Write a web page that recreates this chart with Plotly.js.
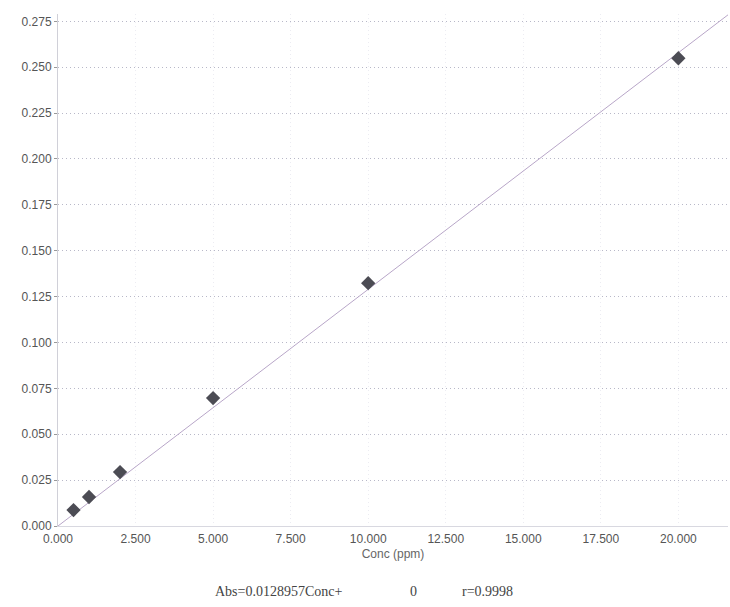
<!DOCTYPE html>
<html><head><meta charset="utf-8">
<script src="https://cdn.plot.ly/plotly-3.0.1.min.js"></script>
<style>body{margin:0;background:#fff}#c{width:730px;height:607px}</style>
</head><body><div id="c"></div>
<script>
const conc = [0.5, 1.0, 2.0, 5.0, 10.0, 20.0];
const abs = [0.0087, 0.0158, 0.0294, 0.0697, 0.1323, 0.2549];
const slope = 0.0128957;
const intercept = 0;
const fitX = [0, 21.6];
const fitY = fitX.map(x => slope * x + intercept);
const xTicks = [0, 2.5, 5, 7.5, 10, 12.5, 15, 17.5, 20];
const yTicks = [0, 0.025, 0.05, 0.075, 0.1, 0.125, 0.15, 0.175, 0.2, 0.225, 0.25, 0.275];

const traces = [
  {x: fitX, y: fitY, mode: 'lines', line: {color: '#b8a6c8', width: 1}, hoverinfo: 'skip'},
  {x: conc, y: abs, mode: 'markers', marker: {symbol: 'diamond', size: 11, color: '#4c4c54'}}
];
const serif = 'Liberation Serif, Times New Roman, serif';
const layout = {
  width: 730, height: 607, showlegend: false,
  margin: {l: 58, r: 2, t: 14, b: 81},
  paper_bgcolor: '#fff', plot_bgcolor: '#fff',
  font: {family: 'Liberation Sans, Arial, sans-serif', color: '#555', size: 12},
  xaxis: {range: [0, 21.6], tickvals: xTicks, ticktext: xTicks.map(v => v.toFixed(3)),
    showgrid: true, gridcolor: '#ececf2', griddash: '1px,3px', zeroline: false,
    showline: true, linecolor: '#d8d8e0', ticks: '', ticklabelstandoff: 2,
    tickfont: {size: 12, color: '#555'},
    title: {text: 'Conc (ppm)', font: {size: 12, color: '#666'}, standoff: 4}},
  yaxis: {range: [0, 0.279], tickvals: yTicks, ticktext: yTicks.map(v => v.toFixed(3)),
    showgrid: true, gridcolor: '#b8b8c8', griddash: '1px,3px', zeroline: false,
    showline: true, linecolor: '#d0d0d8', ticks: 'outside', ticklen: 3, tickcolor: '#999',
    tickfont: {size: 12, color: '#555'}},
  annotations: [
    {xref: 'paper', yref: 'paper', x: 0.2313, y: 0, xanchor: 'left', yanchor: 'middle', yshift: -65,
     text: 'Abs=' + slope + 'Conc+', showarrow: false, font: {family: serif, size: 14, color: '#444'}},
    {xref: 'paper', yref: 'paper', x: 0.53, y: 0, xanchor: 'center', yanchor: 'middle', yshift: -65,
     text: String(intercept), showarrow: false, font: {family: serif, size: 14, color: '#444'}},
    {xref: 'paper', yref: 'paper', x: 0.6, y: 0, xanchor: 'left', yanchor: 'middle', yshift: -65,
     text: 'r=0.9998', showarrow: false, font: {family: serif, size: 14, color: '#444'}}
  ]
};
Plotly.newPlot('c', traces, layout, {displayModeBar: false});
</script></body></html>
